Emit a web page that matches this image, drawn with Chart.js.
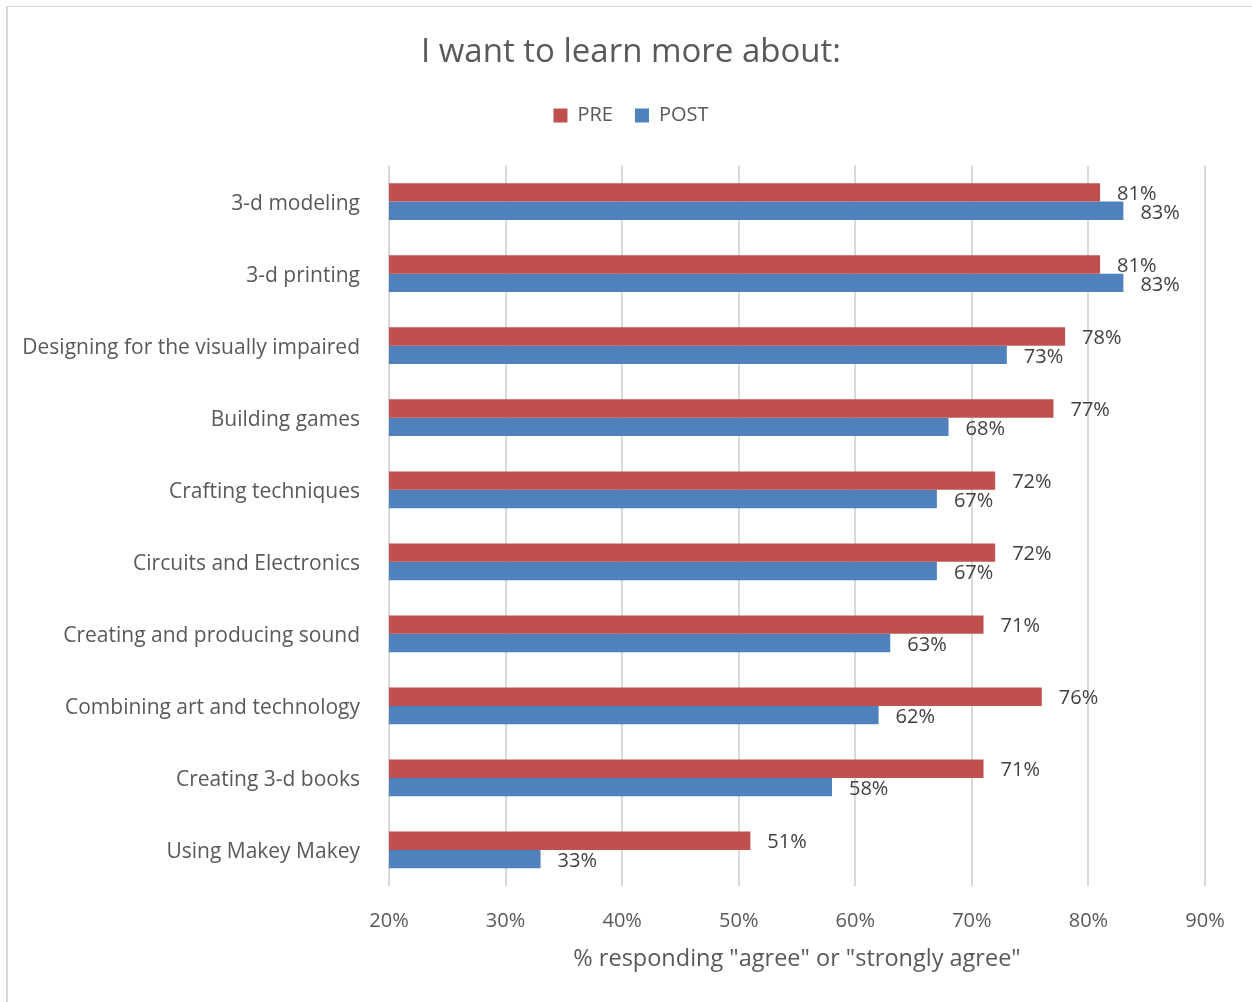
<!DOCTYPE html>
<html>
<head>
<meta charset="utf-8">
<title>I want to learn more about:</title>
<script src="https://cdn.jsdelivr.net/npm/chart.js@4.4.1/dist/chart.umd.min.js"></script>
<style>
  html, body { margin: 0; padding: 0; background: #fff; }
  #wrap { position: relative; width: 1252px; height: 1002px; overflow: hidden; }
  #frame {
    position: absolute; left: 6px; top: 6px; width: 1300px; height: 1100px;
    border-left: 2px solid #d9d9d9; border-top: 1px solid #d9d9d9;
  }
  canvas { position: absolute; left: 0; top: 0; }
</style>
</head>
<body>
<div id="wrap">
  <div id="frame"></div>
  <canvas id="chart" width="1252" height="1002"></canvas>
</div>
<script>
// ─── Data ─────────────────────────────────────────────────────────────────────
const topics = [
  "3-d modeling",
  "3-d printing",
  "Designing for the visually impaired",
  "Building games",
  "Crafting techniques",
  "Circuits and Electronics",
  "Creating and producing sound",
  "Combining art and technology",
  "Creating 3-d books",
  "Using Makey Makey",
];
const prePct  = [81, 81, 78, 77, 72, 72, 71, 76, 71, 51];
const postPct = [83, 83, 73, 68, 67, 67, 63, 62, 58, 33];
const xTicks  = [20, 30, 40, 50, 60, 70, 80, 90];

const FONT = "'Open Sans', 'Noto Sans', 'DejaVu Sans', sans-serif";
const GREY = "#595959";

// ─── Value labels at bar ends ─────────────────────────────────────────────────
const barLabels = {
  id: "barLabels",
  afterDatasetsDraw(chart) {
    const ctx = chart.ctx;
    ctx.save();
    ctx.font = `20px ${FONT}`;
    ctx.fillStyle = "#404040";
    ctx.textAlign = "left";
    ctx.textBaseline = "middle";
    chart.data.datasets.forEach((ds, i) => {
      chart.getDatasetMeta(i).data.forEach((bar, j) => {
        ctx.fillText(ds.data[j] + "%", bar.x + 17, bar.y + 2);
      });
    });
    ctx.restore();
  }
};

// spacer axes: no ticks, only reserve room around the plot
const spacer = (position, size) => ({
  type: "linear",
  axis: position === "top" ? "x" : "y",
  position,
  grid: { display: false },
  border: { display: false },
  ticks: { display: false },
  afterFit: s => {
    if (position === "top") s.height = size; else s.width = size;
  },
});

new Chart(document.getElementById("chart"), {
  type: "bar",
  data: {
    labels: topics,
    datasets: [
      { label: "PRE",  data: prePct,  backgroundColor: "#C0504D", xAxisID: "x", yAxisID: "y" },
      { label: "POST", data: postPct, backgroundColor: "#4F81BD", xAxisID: "x", yAxisID: "y" },
    ]
  },
  options: {
    indexAxis: "y",
    responsive: false,
    animation: false,
    categoryPercentage: 0.51,
    barPercentage: 1,
    layout: { padding: { top: 10, left: 20, right: 10, bottom: 27 } },
    plugins: {
      title: {
        display: true,
        text: "I want to learn more about:",
        color: GREY,
        font: { family: FONT, size: 33, weight: "normal" },
        padding: { top: 23, bottom: 11 },
      },
      legend: {
        position: "top",
        labels: {
          color: GREY,
          font: { family: FONT, size: 20 },
          boxWidth: 14,
          boxHeight: 14,
          padding: 22,
        }
      },
      tooltip: { enabled: false },
    },
    scales: {
      x: {
        min: 20,
        max: 90,
        afterBuildTicks: s => { s.ticks = xTicks.map(v => ({ value: v })); },
        grid: { color: "#d9d9d9", lineWidth: 2, drawTicks: false },
        border: { display: false },
        ticks: {
          color: GREY,
          font: { family: FONT, size: 20 },
          padding: 23,
          callback: v => v + "%",
        },
        title: {
          display: true,
          text: '% responding "agree" or "strongly agree"',
          color: GREY,
          font: { family: FONT, size: 23.5 },
          padding: { top: 14, bottom: 2 },
        },
        afterFit: s => { s.height = 89; },
      },
      y: {
        grid: { display: false, drawTicks: false },
        border: { display: false },
        ticks: {
          color: GREY,
          font: { family: FONT, size: 21 },
          padding: 29,
          labelOffset: 2,
        },
        afterFit: s => { s.width = 369; },
      },
      xTop: spacer("top", 30),
      yRight: spacer("right", 37),
    }
  },
  plugins: [barLabels]
});
</script>
</body>
</html>
